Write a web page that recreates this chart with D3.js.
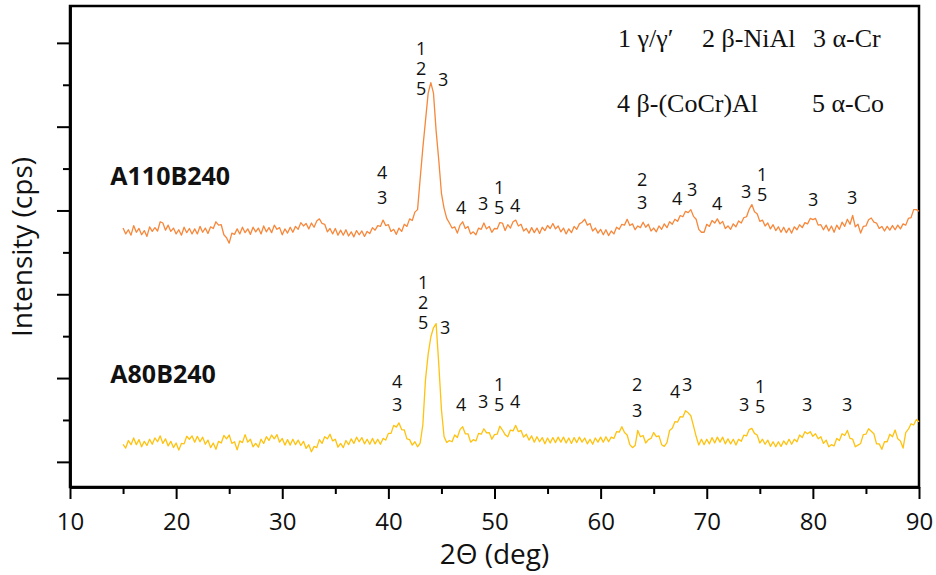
<!DOCTYPE html>
<html>
<head>
<meta charset="utf-8">
<script src="https://cdn.jsdelivr.net/npm/d3@7"></script>
<style>
body { margin: 0; background: #fff; }
text { font-family: "Open Sans", sans-serif; fill: #111; }
.legend-text { font-family: "Liberation Serif", "Times New Roman", serif; font-size: 26px; }
.peak { font-size: 18px; }
.sample { font-size: 25px; font-weight: bold; }
</style>
</head>
<body>
<div id="chart"></div>
<script>
// scan grid (deg)
var startAngle = 15, angleStep = 0.25;

// intensity, one value per 0.25 deg from 15 to 90
var a110b240 = [
    558,544,554,541,564,548,557,542,552,538,561,550,
    559,551,573,570,553,565,550,558,544,554,541,560,
    547,557,544,556,544,562,548,558,545,561,557,573,
    565,566,542,535,522,546,543,556,544,560,547,556,
    543,560,549,558,544,563,549,559,547,565,555,559,
    542,556,546,560,548,562,555,571,563,569,556,570,
    560,575,580,569,567,549,557,544,557,541,553,541,
    554,539,549,537,552,542,551,538,550,545,559,553,
    564,562,577,564,566,550,555,543,558,550,567,562,
    580,576,596,602,677,750,815,880,905,880,790,720,
    641,605,581,570,558,561,546,565,573,557,562,544,
    549,542,558,555,570,556,562,548,557,556,571,570,
    552,566,558,573,577,563,567,551,557,546,559,547,
    558,545,560,552,564,557,569,556,563,549,558,544,
    556,547,562,555,568,572,579,565,569,551,558,546,
    555,542,554,540,551,544,560,555,567,565,579,564,
    568,554,563,559,572,560,567,551,558,549,563,555,
    568,559,573,567,579,574,588,585,598,595,602,586,
    579,555,548,548,567,562,576,570,580,568,574,557,
    563,555,568,561,575,570,583,585,603,614,597,592,
    574,577,563,570,556,566,552,561,548,560,547,558,
    546,561,554,566,559,571,568,581,578,581,565,566,
    554,565,551,563,548,565,555,572,562,579,567,588,
    561,567,546,562,563,578,582,572,570,557,562,551,
    562,553,564,554,565,556,568,565,581,583,602,602,
    598];

var a80b240 = [
    42,33,51,41,57,41,53,36,49,39,54,42,
    57,48,62,44,55,38,49,34,45,28,44,43,
    61,54,62,47,61,48,59,42,52,34,45,30,
    49,45,63,55,64,44,48,29,50,46,65,47,
    54,36,44,35,54,44,60,51,64,55,65,47,
    56,40,53,40,54,41,52,39,49,32,41,24,
    37,34,53,44,60,55,66,50,54,35,44,34,
    51,41,55,44,59,48,58,43,54,42,56,43,
    54,42,56,52,68,68,87,83,93,77,76,55,
    53,40,48,36,45,89,197,257,298,320,330,233,
    125,60,46,51,48,64,58,77,84,67,67,47,
    53,50,68,66,79,69,70,54,65,66,85,76,
    65,60,76,74,87,72,75,59,66,52,62,47,
    60,48,58,43,57,45,58,46,59,47,59,45,
    57,44,58,46,59,47,57,43,54,42,57,47,
    59,47,60,48,59,56,72,71,84,70,64,41,
    34,39,75,60,63,45,53,56,70,60,62,41,
    37,46,75,80,96,95,108,107,122,117,110,86,
    61,40,54,41,54,43,58,45,59,47,59,43,
    55,43,54,40,54,49,64,62,77,80,68,64,
    45,54,42,52,37,48,36,48,37,50,41,54,
    42,54,48,64,58,72,67,72,61,67,55,60,
    44,52,36,41,38,56,51,67,63,75,56,54,
    36,40,44,65,66,79,73,67,43,43,30,48,
    48,66,60,76,55,50,33,70,78,91,88,101,
    96];

var sampleNames = ["A110B240", "A80B240"];
var sampleColors = ["#f7873a", "#ffc20e"];
var sampleLabelAngle = [13.8, 13.8];
var sampleLabelValue = [661, 189];

var xMajorTicks = [10, 20, 30, 40, 50, 60, 70, 80, 90];
var xMinorTicks = [15, 25, 35, 45, 55, 65, 75, 85];
var yMajorTicks = [0, 200, 400, 600, 800, 1000];
var yMinorTicks = [100, 300, 500, 700, 900];

// phase marks over the peaks
var peakText110  = ["4","3","1","2","5","3","4","3","1","5","4","2","3","4","3","4","3","1","5","3","3"];
var peakAngle110 = [39.41,39.41,43.08,43.08,43.08,45.16,46.85,48.93,50.43,50.43,51.94,63.91,63.91,67.21,68.62,70.98,73.71,75.22,75.22,80.03,83.70];
var peakValue110 = [690,630,986,940,890,912,606,616,654,606,613,673,618,628,649,616,645,685,637,625,630];

var peakText80  = ["4","3","1","2","5","3","4","3","1","5","4","2","3","4","3","3","1","5","3","3"];
var peakAngle80 = [40.82,40.82,43.27,43.27,43.27,45.34,46.85,48.93,50.43,50.43,51.94,63.44,63.44,67.02,68.15,73.52,75.03,75.03,79.46,83.23];
var peakValue80 = [191,136,427,380,332,320,136,143,184,136,143,184,122,167,184,136,179,131,136,136];

var legendRows = [["1 γ/γ′", "2 β-NiAl", "3 α-Cr"], ["4 β-(CoCr)Al", "5 α-Co"]];
var legendX = [[618, 702, 813], [617, 812]];
var legendY = [47, 112];

var svg = d3.select("#chart").append("svg")
    .attr("width", 936)
    .attr("height", 575);

var x = d3.scaleLinear().domain([10, 90]).range([70, 919]);
var y = d3.scaleLinear().domain([-60, 1088]).range([487, 6]);

drawFrame();
drawSeries([a110b240, a80b240]);
drawLabels();

function drawFrame() {
    // top and right border
    svg.append("rect")
        .attr("x", x(10)).attr("y", y(1088))
        .attr("width", x(90) - x(10)).attr("height", y(-60) - y(1088))
        .attr("fill", "none")
        .attr("stroke", "#000")
        .attr("stroke-width", 2.5);

    var xAxis = svg.append("g")
        .attr("transform", "translate(0," + y(-60) + ")")
        .call(d3.axisBottom(x).tickValues(xMajorTicks).tickSize(12).tickSizeOuter(0).tickPadding(14));
    svg.append("g")
        .attr("transform", "translate(0," + y(-60) + ")")
        .call(d3.axisBottom(x).tickValues(xMinorTicks).tickSize(7).tickSizeOuter(0).tickFormat(""));

    svg.append("g")
        .attr("transform", "translate(" + x(10) + ",0)")
        .call(d3.axisLeft(y).tickValues(yMajorTicks).tickSize(13).tickSizeOuter(0).tickFormat(""));
    svg.append("g")
        .attr("transform", "translate(" + x(10) + ",0)")
        .call(d3.axisLeft(y).tickValues(yMinorTicks).tickSize(7).tickSizeOuter(0).tickFormat(""));

    svg.selectAll(".domain").attr("stroke", "#000").attr("stroke-width", 2.5);
    svg.selectAll(".tick line").attr("stroke", "#000").attr("stroke-width", 2);
    xAxis.selectAll("text")
        .style("font-family", "'Open Sans', sans-serif")
        .style("font-size", "24px")
        .attr("fill", "#111");

    svg.append("text")
        .attr("x", (x(10) + x(90)) / 2)
        .attr("y", 564)
        .attr("text-anchor", "middle")
        .style("font-size", "28px")
        .text("2Θ (deg)");

    svg.append("text")
        .attr("transform", "translate(32,247) rotate(-90)")
        .attr("text-anchor", "middle")
        .style("font-size", "28px")
        .text("Intensity (cps)");
}

function drawSeries(series) {
    var line = d3.line()
        .x(function(d, i) { return x(startAngle + i * angleStep); })
        .y(function(d) { return y(d); });

    svg.selectAll(".trace")
        .data(series)
        .enter().append("path")
        .attr("class", "trace")
        .attr("d", line)
        .attr("fill", "none")
        .attr("stroke", function(d, i) { return sampleColors[i]; })
        .attr("stroke-width", 1.3)
        .attr("stroke-linejoin", "round");
}

function drawLabels() {
    svg.selectAll(".sample")
        .data(sampleNames)
        .enter().append("text")
        .attr("class", "sample")
        .attr("x", function(d, i) { return x(sampleLabelAngle[i]); })
        .attr("y", function(d, i) { return y(sampleLabelValue[i]); })
        .text(function(d) { return d; });

    var peaks = [[peakText110, peakAngle110, peakValue110], [peakText80, peakAngle80, peakValue80]];
    peaks.forEach(function(p) {
        svg.append("g").selectAll("text")
            .data(p[0])
            .enter().append("text")
            .attr("class", "peak")
            .attr("x", function(d, i) { return x(p[1][i]); })
            .attr("y", function(d, i) { return y(p[2][i]) + 6.5; })
            .attr("text-anchor", "middle")
            .text(function(d) { return d; });
    });

    legendRows.forEach(function(row, r) {
        svg.append("g").selectAll("text")
            .data(row)
            .enter().append("text")
            .attr("class", "legend-text")
            .attr("x", function(d, i) { return legendX[r][i]; })
            .attr("y", legendY[r])
            .text(function(d) { return d; });
    });
}
</script>
</body>
</html>
